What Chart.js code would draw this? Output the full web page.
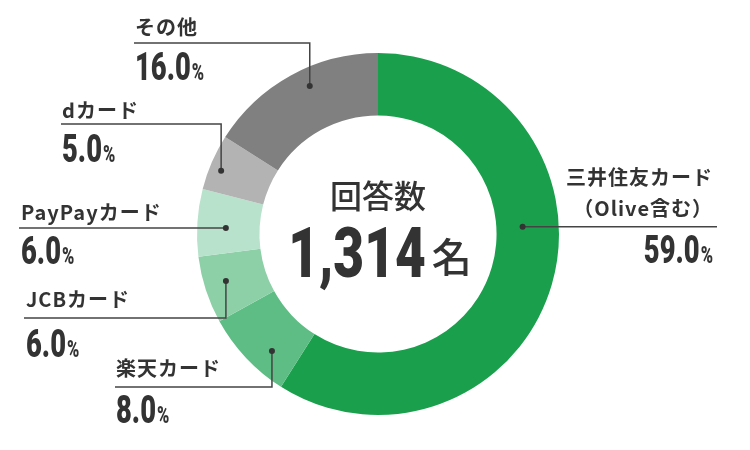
<!DOCTYPE html>
<html>
<head>
<meta charset="utf-8">
<script src="https://cdn.jsdelivr.net/npm/chart.js@4.4.1/dist/chart.umd.min.js"></script>
<style>
html, body { margin: 0; padding: 0; background: #fff; }
</style>
</head>
<body>
<canvas id="chart" width="750" height="450"></canvas>
<script>
// data
var cards = ['三井住友カード', '楽天カード', 'JCBカード', 'PayPayカード', 'dカード', 'その他'];
var cardNotes = ['（Olive含む）', '', '', '', '', ''];
var shares = [59.0, 8.0, 6.0, 6.0, 5.0, 16.0];
var centerTitle = '回答数';
var centerCount = '1,314';
var centerUnit = '名';

var colors = ['#1aa04c', '#5ebd84', '#8dd0a7', '#b8e2cb', '#b3b3b3', '#808080'];

// leader layout: at = position along the arc (0..1), rf = position across the ring (0..1)
var leaders = [
    { at: 0.41, rf: 0.42, lineY: null, toX: 717, textX: 713, align: 'right', labelY: 177, noteY: 208, valueBase: 263 },
    { at: 0.34, rf: 0.63, lineY: 387, toX: 115, textX: 116, align: 'left', labelY: 368, valueBase: 423 },
    { at: 0.54, rf: 0.65, lineY: 318, toX: 24, textX: 26, align: 'left', labelY: 299, valueBase: 357 },
    { at: 0.44, rf: 0.54, lineY: null, toX: 19, textX: 21, align: 'left', labelY: 212, valueBase: 264 },
    { at: 0.42, rf: 0.81, lineY: 124, toX: 61, textX: 62, align: 'left', labelY: 110, valueBase: 162 },
    { at: 0.57, rf: 0.71, lineY: 43, toX: 134, textX: 135, align: 'left', labelY: 27, valueBase: 80 }
];

var INK = '#333333';
var JP = '"Noto Sans CJK JP", "Noto Sans", sans-serif';
var NUM = 'Roboto, "Liberation Sans", sans-serif';

// draws horizontally squeezed text, returns drawn width
function squeezed(ctx, text, x, y, font, sx, align) {
    ctx.save();
    ctx.font = font;
    var w = ctx.measureText(text).width * sx;
    var left = align === 'right' ? x - w : x;
    ctx.translate(left, y);
    ctx.scale(sx, 1);
    ctx.textAlign = 'left';
    ctx.fillText(text, 0, 0);
    ctx.restore();
    return w;
}

function measureSqueezed(ctx, text, font, sx) {
    ctx.save();
    ctx.font = font;
    var w = ctx.measureText(text).width * sx;
    ctx.restore();
    return w;
}

var labelPlugin = {
    id: 'cardLabels',
    afterDraw: function (chart) {
        var ctx = chart.ctx;
        var arcs = chart.getDatasetMeta(0).data;
        ctx.save();
        ctx.fillStyle = INK;
        ctx.strokeStyle = '#444';
        ctx.lineWidth = 1.5;

        arcs.forEach(function (arc, i) {
            var p = arc.getProps(['x', 'y', 'startAngle', 'endAngle', 'innerRadius', 'outerRadius'], true);
            var L = leaders[i];
            var a = p.startAngle + (p.endAngle - p.startAngle) * L.at;
            var r = p.innerRadius + (p.outerRadius - p.innerRadius) * L.rf;
            var dx = p.x + Math.cos(a) * r;
            var dy = p.y + Math.sin(a) * r;

            ctx.beginPath();
            ctx.moveTo(dx, dy);
            var ly = L.lineY === null ? dy : L.lineY;
            ctx.lineTo(dx, ly);
            ctx.lineTo(L.toX, ly);
            ctx.stroke();

            ctx.beginPath();
            ctx.arc(dx, dy, 3, 0, Math.PI * 2);
            ctx.fill();

            // label
            ctx.font = 'bold 20px ' + JP;
            ctx.letterSpacing = '1px';
            ctx.textBaseline = 'middle';
            ctx.textAlign = L.align;
            ctx.fillText(cards[i], L.textX, L.labelY);
            if (cardNotes[i]) {
                ctx.fillText(cardNotes[i], L.textX, L.noteY);
            }
            ctx.letterSpacing = '0px';

            // value
            ctx.textBaseline = 'alphabetic';
            var num = shares[i].toFixed(1);
            var numFont = '900 38px ' + NUM;
            var pctFont = '900 23px ' + NUM;
            var sx = 0.72;
            if (L.align === 'right') {
                var pw = measureSqueezed(ctx, '%', pctFont, sx);
                squeezed(ctx, '%', L.textX, L.valueBase, pctFont, sx, 'right');
                squeezed(ctx, num, L.textX - pw - 1, L.valueBase, numFont, sx, 'right');
            } else {
                var nw = squeezed(ctx, num, L.textX, L.valueBase, numFont, sx, 'left');
                squeezed(ctx, '%', L.textX + nw + 1, L.valueBase, pctFont, sx, 'left');
            }
        });

        // centre text
        var c = arcs[0].getProps(['x', 'y'], true);
        ctx.textAlign = 'center';
        ctx.textBaseline = 'middle';
        ctx.font = '500 32px ' + JP;
        ctx.fillText(centerTitle, c.x, c.y - 38);

        ctx.textBaseline = 'alphabetic';
        var cntFont = '900 70px ' + NUM;
        var sxc = 0.76;
        var cw = measureSqueezed(ctx, centerCount, cntFont, sxc);
        ctx.font = '500 40px ' + JP;
        var uw = ctx.measureText(centerUnit).width;
        var gap = 6;
        var startX = c.x + 2 - (cw + gap + uw) / 2;
        squeezed(ctx, centerCount, startX, c.y + 43, cntFont, sxc, 'left');
        ctx.font = '500 40px ' + JP;
        ctx.textAlign = 'left';
        ctx.fillText(centerUnit, startX + cw + gap, c.y + 38);

        ctx.restore();
    }
};

var ctx = document.getElementById('chart').getContext('2d');
var myChart = new Chart(ctx, {
    type: 'doughnut',
    data: {
        labels: cards,
        datasets: [
            {
                data: shares,
                backgroundColor: colors,
                borderWidth: 0
            }
        ]
    },
    options: {
        responsive: false,
        animation: false,
        cutout: '65.5%',
        layout: {
            padding: { top: 53, bottom: 35, left: 6, right: 0 }
        },
        plugins: {
            legend: { display: false },
            tooltip: { enabled: false }
        }
    },
    plugins: [labelPlugin]
});
</script>
</body>
</html>
